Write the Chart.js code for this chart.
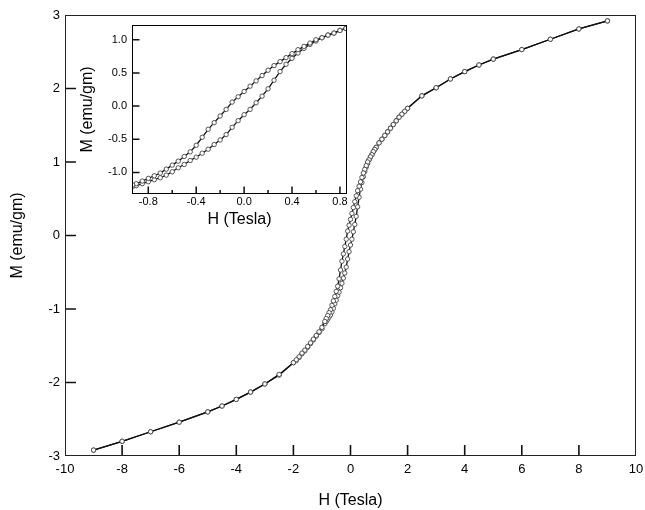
<!DOCTYPE html>
<html><head><meta charset="utf-8">
<script src="https://cdn.jsdelivr.net/npm/chart.js@4/dist/chart.umd.min.js"></script>
<style>
html,body{margin:0;padding:0;background:#fff;}
#wrap{position:relative;width:645px;height:510px;overflow:hidden;}
#main{position:absolute;left:0;top:0;}
#inset{position:absolute;left:60px;top:10px;}
</style></head><body>
<div id="wrap"><canvas id="main" width="645" height="510"></canvas><canvas id="inset" width="295" height="230"></canvas></div>
<script>
// ---- Main plot: descending branch (field from +9 T to -9 T)
const mainHDesc = [9,8,7,6,5,4.5,4,3.5,3,2.5,2,1.9,1.8,1.7,1.6,1.5,1.4,1.3,1.2,1.1,1.0,0.9,
  0.85,0.8,0.75,0.7,0.65,0.6,0.55,0.5,0.45,0.4,0.35,0.3,0.25,0.2,0.15,0.1,0.05,0,-0.05,-0.1,-0.15,-0.2,-0.25,-0.3,-0.35,-0.4,-0.45,-0.5,-0.55,-0.6,-0.65,-0.7,-0.75,-0.8,-0.85,-0.9,
  -1.0,-1.1,-1.2,-1.3,-1.4,-1.5,-1.6,-1.7,-1.8,-1.9,-2,-2.5,-3,-3.5,-4,-4.5,-5,-6,-7,-8,-9];
const mainMDesc = [2.92,2.81,2.67,2.53,2.40,2.32,2.23,2.13,2.01,1.90,1.73,1.69,1.65,1.61,1.56,1.51,1.46,1.41,1.36,1.31,1.26,1.20,
  1.17,1.14,1.10,1.07,1.03,1.00,0.95,0.90,0.85,0.79,0.73,0.67,0.61,0.54,0.46,0.38,0.30,0.22,0.14,0.06,-0.05,-0.15,-0.25,-0.35,-0.47,-0.59,-0.69,-0.76,-0.83,-0.89,-0.95,-1.01,-1.05,-1.09,-1.13,-1.17,
  -1.25,-1.31,-1.36,-1.41,-1.46,-1.51,-1.56,-1.60,-1.65,-1.69,-1.73,-1.89,-2.02,-2.13,-2.23,-2.32,-2.40,-2.54,-2.67,-2.80,-2.92];
// ---- Main plot: ascending branch (field from -9 T to +9 T)
const mainHAsc = [-9,-8,-7,-6,-5,-4.5,-4,-3.5,-3,-2.5,-2,-1.9,-1.8,-1.7,-1.6,-1.5,-1.4,-1.3,-1.2,-1.1,-1.0,
  -0.9,-0.85,-0.8,-0.75,-0.7,-0.65,-0.6,-0.55,-0.5,-0.45,-0.4,-0.35,-0.3,-0.25,-0.2,-0.15,-0.1,-0.05,0,0.05,0.1,0.15,0.2,0.25,0.3,0.35,0.4,0.45,0.5,0.55,0.6,0.65,0.7,0.75,0.8,0.85,
  0.9,1.0,1.1,1.2,1.3,1.4,1.5,1.6,1.7,1.8,1.9,2,2.5,3,3.5,4,4.5,5,6,7,8,9];
const mainMAsc = [-2.92,-2.80,-2.67,-2.54,-2.40,-2.32,-2.23,-2.13,-2.02,-1.90,-1.73,-1.70,-1.66,-1.61,-1.57,-1.52,-1.47,-1.42,-1.37,-1.32,-1.27,
  -1.20,-1.17,-1.14,-1.11,-1.08,-1.04,-0.99,-0.93,-0.88,-0.82,-0.77,-0.71,-0.65,-0.58,-0.51,-0.43,-0.32,-0.22,-0.13,-0.05,0.05,0.15,0.26,0.39,0.52,0.63,0.72,0.80,0.87,0.93,0.98,1.03,1.07,1.10,1.14,1.17,
  1.20,1.26,1.31,1.36,1.41,1.46,1.51,1.56,1.61,1.65,1.69,1.73,1.90,2.01,2.13,2.23,2.32,2.40,2.53,2.67,2.81,2.92];

// ---- Inset: low-field loop
const insetHUp = [0.85,0.8,0.75,0.7,0.65,0.6,0.55,0.5,0.45,0.4,0.35,0.3,0.25,0.2,0.15,0.1,0.05,0,-0.05,-0.1,-0.15,-0.2,-0.25,-0.3,-0.35,-0.4,-0.45,-0.5,-0.55,-0.6,-0.65,-0.7,-0.75,-0.8,-0.85,-0.9,-0.93];
const insetMUp = [1.17,1.14,1.10,1.07,1.03,1.00,0.95,0.90,0.85,0.79,0.73,0.67,0.61,0.54,0.46,0.38,0.30,0.22,0.14,0.06,-0.05,-0.15,-0.25,-0.35,-0.47,-0.59,-0.69,-0.76,-0.83,-0.89,-0.95,-1.01,-1.05,-1.09,-1.13,-1.17,-1.19];
const insetHLow = [-0.93,-0.9,-0.85,-0.8,-0.75,-0.7,-0.65,-0.6,-0.55,-0.5,-0.45,-0.4,-0.35,-0.3,-0.25,-0.2,-0.15,-0.1,-0.05,0,0.05,0.1,0.15,0.2,0.25,0.3,0.35,0.4,0.45,0.5,0.55,0.6,0.65,0.7,0.75,0.8,0.85];
const insetMLow = [-1.21,-1.20,-1.17,-1.14,-1.11,-1.08,-1.04,-0.99,-0.93,-0.88,-0.82,-0.77,-0.71,-0.65,-0.58,-0.51,-0.43,-0.32,-0.22,-0.13,-0.05,0.05,0.15,0.26,0.39,0.52,0.63,0.72,0.80,0.87,0.93,0.98,1.03,1.07,1.10,1.14,1.17];

// ---- Axis ticks / titles
const mainXTicks = [-10,-8,-6,-4,-2,0,2,4,6,8,10];
const mainYTicks = [-3,-2,-1,0,1,2,3];
const insetXMajor = [-0.8,-0.4,0,0.4,0.8];
const insetXMinor = [-0.6,-0.2,0.2,0.6];
const insetYMajor = [-1.0,-0.5,0,0.5,1.0];
const xTitle = 'H (Tesla)';
const yTitle = 'M (emu/gm)';

Chart.defaults.font.family = "'Liberation Sans', Arial, sans-serif";
Chart.defaults.color = '#000';

function pts(h, m) { return h.map((v, i) => ({x: v, y: m[i]})); }

function frameTicks(cfg) {
  return {
    id: 'frameTicks',
    afterDraw(chart) {
      const ctx = chart.ctx, a = chart.chartArea;
      const xs = chart.scales.x, ys = chart.scales.y;
      ctx.save();
      ctx.strokeStyle = cfg.tickColor;
      ctx.lineWidth = cfg.tickWidth;
      ctx.beginPath();
      cfg.xMajor.forEach(v => {
        const p = xs.getPixelForValue(v);
        if (p <= a.left + 1 || p >= a.right - 1) return;
        ctx.moveTo(p, a.bottom); ctx.lineTo(p, a.bottom - cfg.majorLen);
      });
      cfg.xMinor.forEach(v => {
        const p = xs.getPixelForValue(v);
        ctx.moveTo(p, a.bottom); ctx.lineTo(p, a.bottom - cfg.minorLen);
      });
      cfg.yMajor.forEach(v => {
        const p = ys.getPixelForValue(v);
        if (p <= a.top + 1 || p >= a.bottom - 1) return;
        ctx.moveTo(a.left, p); ctx.lineTo(a.left + cfg.majorLen, p);
      });
      ctx.stroke();
      ctx.strokeStyle = cfg.color;
      ctx.lineWidth = 1;
      ctx.strokeRect(Math.round(a.left) + 0.5, Math.round(a.top) + 0.5, Math.round(a.right - a.left) - 1, Math.round(a.bottom - a.top) - 1);
      ctx.restore();
    }
  };
}

const lineStyle = {
  showLine: true, borderColor: '#111', borderWidth: 1.3, tension: 0,
  pointRadius: 2.2, pointBorderWidth: 0.9, pointBorderColor: '#444', pointBackgroundColor: '#fff',
  pointHoverRadius: 2.2
};

new Chart(document.getElementById('main'), {
  type: 'scatter',
  data: { datasets: [
    Object.assign({ data: pts(mainHDesc, mainMDesc) }, lineStyle),
    Object.assign({ data: pts(mainHAsc, mainMAsc) }, lineStyle)
  ]},
  options: {
    responsive: false, animation: false, events: [],
    layout: { padding: { left: 0, top: 15, right: 9, bottom: 0 } },
    plugins: { legend: { display: false }, tooltip: { enabled: false } },
    scales: {
      x: {
        type: 'linear', min: -10, max: 10,
        afterBuildTicks(s) { s.ticks = mainXTicks.map(v => ({value: v})); },
        ticks: { padding: 6, font: { size: 13 }, maxRotation: 0, autoSkip: false, callback: v => String(v) },
        grid: { display: false, drawTicks: false }, border: { display: false },
        title: { display: true, text: xTitle, font: { size: 16 }, padding: { top: 0, bottom: 0 } },
        afterFit(s) { s.height = 54; s.paddingLeft = 0; s.paddingRight = 0; }
      },
      y: {
        type: 'linear', min: -3, max: 3,
        afterBuildTicks(s) { s.ticks = mainYTicks.map(v => ({value: v})); },
        ticks: { padding: 5, font: { size: 13 }, autoSkip: false, callback: v => String(v) },
        grid: { display: false, drawTicks: false }, border: { display: false },
        title: { display: true, text: yTitle, font: { size: 16 }, padding: { top: 7.5, bottom: 0 } },
        afterFit(s) { s.width = 65; s.paddingTop = 0; s.paddingBottom = 0; }
      }
    }
  },
  plugins: [frameTicks({ color: '#222', tickColor: '#111', tickWidth: 1.6, majorLen: 11, minorLen: 11, xMajor: mainXTicks, xMinor: [], yMajor: mainYTicks })]
});

new Chart(document.getElementById('inset'), {
  type: 'scatter',
  data: { datasets: [
    Object.assign({ data: pts(insetHUp, insetMUp) }, lineStyle),
    Object.assign({ data: pts(insetHLow, insetMLow) }, lineStyle)
  ]},
  options: {
    responsive: false, animation: false, events: [],
    layout: { padding: { left: 0, top: 15, right: 8, bottom: 0 } },
    plugins: { legend: { display: false }, tooltip: { enabled: false } },
    scales: {
      x: {
        type: 'linear', min: -0.936, max: 0.859,
        afterBuildTicks(s) { s.ticks = insetXMajor.map(v => ({value: v})); },
        ticks: { padding: 1, font: { size: 11 }, maxRotation: 0, autoSkip: false, callback: v => v.toFixed(1) },
        grid: { display: false, drawTicks: false }, border: { display: false },
        title: { display: true, text: xTitle, font: { size: 16 }, padding: { top: 0, bottom: 10.4 } },
        afterFit(s) { s.height = 46; s.paddingLeft = 0; s.paddingRight = 0; }
      },
      y: {
        type: 'linear', min: -1.325, max: 1.222,
        afterBuildTicks(s) { s.ticks = insetYMajor.map(v => ({value: v})); },
        ticks: { padding: 5, font: { size: 11 }, autoSkip: false, callback: v => v.toFixed(1) },
        grid: { display: false, drawTicks: false }, border: { display: false },
        title: { display: true, text: yTitle, font: { size: 16 }, padding: { top: 17.7, bottom: 0 } },
        afterFit(s) { s.width = 72; s.paddingTop = 0; s.paddingBottom = 0; }
      }
    }
  },
  plugins: [frameTicks({ color: '#000', tickColor: '#111', tickWidth: 1.5, majorLen: 7.5, minorLen: 4, xMajor: insetXMajor, xMinor: insetXMinor, yMajor: insetYMajor })]
});
</script>
</body></html>
